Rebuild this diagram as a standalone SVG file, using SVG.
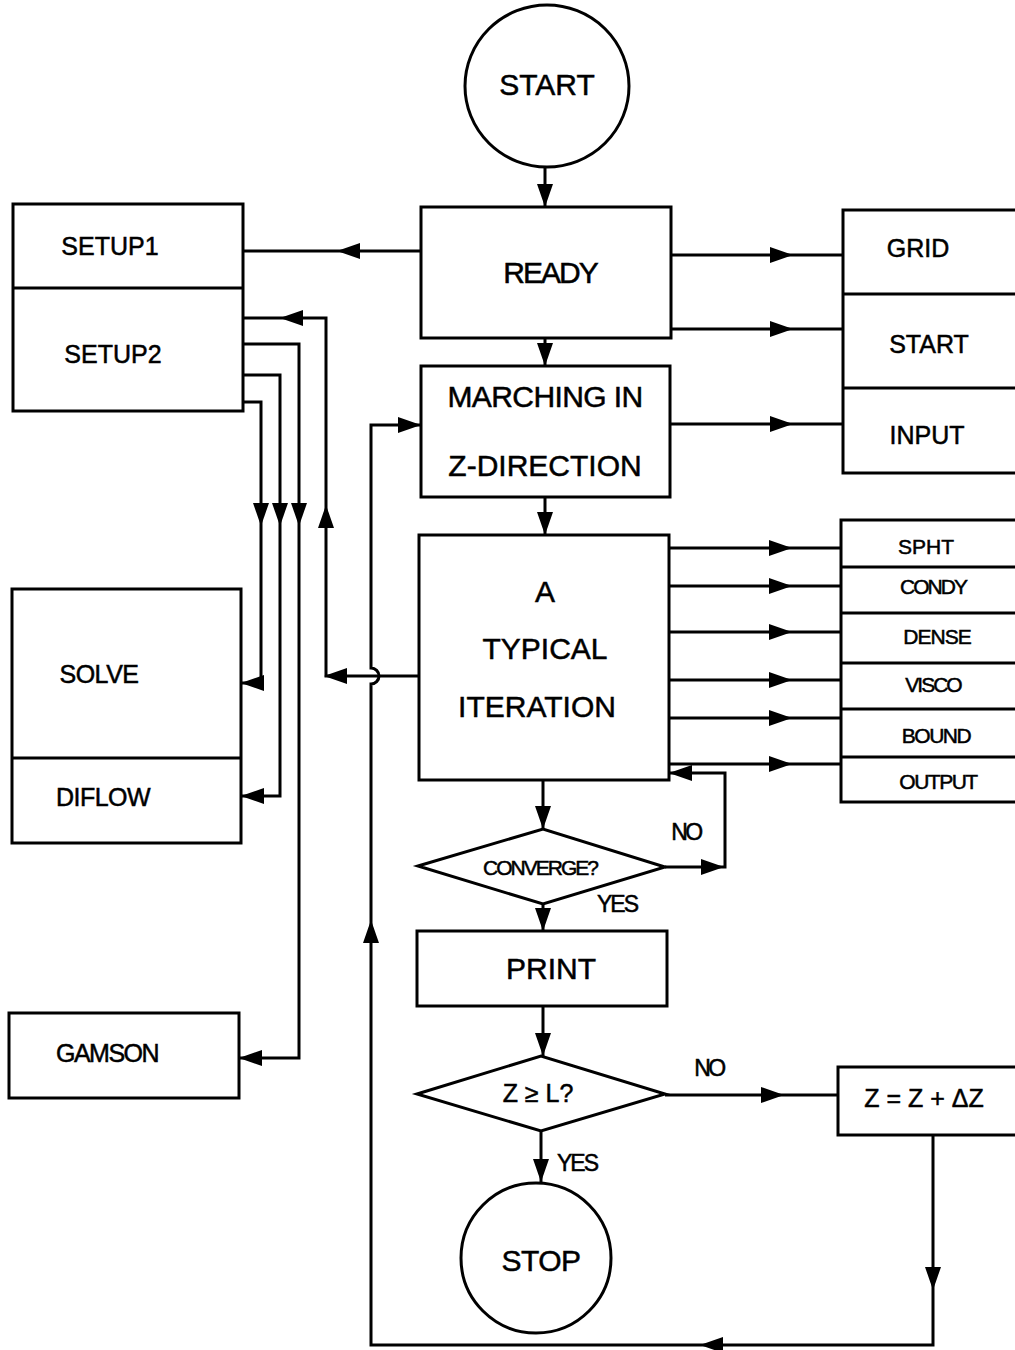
<svg xmlns="http://www.w3.org/2000/svg" xmlns:xlink="http://www.w3.org/1999/xlink" width="1015" height="1350" viewBox="0 0 1015 1350">
<style>
  .box { fill: #ffffff; stroke: #000000; stroke-width: 3; }
  .ln { fill: none; stroke: #000000; stroke-width: 3; }
  .t { font-family: "Liberation Sans", Arial, sans-serif; fill: #000000; stroke: #000000; stroke-width: 0.5; text-anchor: middle; }
  .big { font-size: 30px; }
  .mid { font-size: 25px; }
  .sm { font-size: 21px; }
  .lb { font-size: 23px; }
  .ah { fill: #000000; stroke: none; }
</style>
<defs>
  <path id="ah" d="M0,0 L-23,-8 L-23,8 Z"/>
</defs>
<rect width="1015" height="1350" fill="#ffffff"/>

<g id="connectors">
  <path class="ln" d="M545,167 V207"/>
  <path class="ln" d="M421,251 H243"/>
  <path class="ln" d="M671,255 H843"/>
  <path class="ln" d="M671,329 H843"/>
  <path class="ln" d="M545,338 V366"/>
  <path class="ln" d="M670,424 H843"/>
  <path class="ln" d="M545,497 V535"/>
  <path class="ln" d="M669,548 H841"/>
  <path class="ln" d="M669,586 H841"/>
  <path class="ln" d="M669,632 H841"/>
  <path class="ln" d="M669,680 H841"/>
  <path class="ln" d="M669,718 H841"/>
  <path class="ln" d="M669,764 H841"/>
  <path class="ln" d="M419,676 H326 V318 H243"/>
  <path class="ln" d="M243,344 H299 V1058 H239"/>
  <path class="ln" d="M243,375 H280 V796 H241"/>
  <path class="ln" d="M243,402 H261 V683 H241"/>
  <path class="ln" d="M543,780 V829"/>
  <path class="ln" d="M665,867 H725 V773 H669"/>
  <path class="ln" d="M543,904 V931"/>
  <path class="ln" d="M543,1006 V1056"/>
  <path class="ln" d="M665,1095 H838"/>
  <path class="ln" d="M541,1131 V1183"/>
  <path class="ln" d="M933,1135 V1345 H371 V684 A8,8 0 0 0 371,668 V425 H421"/>

  <g class="ah">
    <use xlink:href="#ah" transform="translate(545,207) rotate(90)"/>
    <use xlink:href="#ah" transform="translate(337,251) rotate(180)"/>
    <use xlink:href="#ah" transform="translate(793,255)"/>
    <use xlink:href="#ah" transform="translate(793,329)"/>
    <use xlink:href="#ah" transform="translate(545,366) rotate(90)"/>
    <use xlink:href="#ah" transform="translate(793,424)"/>
    <use xlink:href="#ah" transform="translate(545,535) rotate(90)"/>
    <use xlink:href="#ah" transform="translate(792,548)"/>
    <use xlink:href="#ah" transform="translate(792,586)"/>
    <use xlink:href="#ah" transform="translate(792,632)"/>
    <use xlink:href="#ah" transform="translate(792,680)"/>
    <use xlink:href="#ah" transform="translate(792,718)"/>
    <use xlink:href="#ah" transform="translate(792,764)"/>
    <use xlink:href="#ah" transform="translate(324,676) rotate(180)"/>
    <use xlink:href="#ah" transform="translate(326,505) rotate(-90)"/>
    <use xlink:href="#ah" transform="translate(280,318) rotate(180)"/>
    <use xlink:href="#ah" transform="translate(299,526) rotate(90)"/>
    <use xlink:href="#ah" transform="translate(280,526) rotate(90)"/>
    <use xlink:href="#ah" transform="translate(261,526) rotate(90)"/>
    <use xlink:href="#ah" transform="translate(241,683) rotate(180)"/>
    <use xlink:href="#ah" transform="translate(241,796) rotate(180)"/>
    <use xlink:href="#ah" transform="translate(239,1058) rotate(180)"/>
    <use xlink:href="#ah" transform="translate(543,829) rotate(90)"/>
    <use xlink:href="#ah" transform="translate(724,867)"/>
    <use xlink:href="#ah" transform="translate(669,773) rotate(180)"/>
    <use xlink:href="#ah" transform="translate(543,931) rotate(90)"/>
    <use xlink:href="#ah" transform="translate(543,1056) rotate(90)"/>
    <use xlink:href="#ah" transform="translate(784,1095)"/>
    <use xlink:href="#ah" transform="translate(541,1182) rotate(90)"/>
    <use xlink:href="#ah" transform="translate(933,1290) rotate(90)"/>
    <use xlink:href="#ah" transform="translate(700,1345) rotate(180)"/>
    <use xlink:href="#ah" transform="translate(371,920) rotate(-90)"/>
    <use xlink:href="#ah" transform="translate(421,425)"/>
  </g>
</g>

<g id="start">
  <ellipse class="box" cx="547" cy="86" rx="82" ry="81"/>
  <text class="t big" x="547" y="95">START</text>
</g>

<g id="ready">
  <rect class="box" x="421" y="207" width="250" height="131"/>
  <text class="t big" x="550" y="283" letter-spacing="-2">READY</text>
</g>

<g id="setup">
  <rect class="box" x="13" y="204" width="230" height="207"/>
  <line class="ln" x1="13" y1="288" x2="243" y2="288"/>
  <text class="t mid" x="110" y="255">SETUP1</text>
  <text class="t mid" x="113" y="363">SETUP2</text>
</g>

<g id="grid-start-input">
  <rect class="box" x="843" y="210" width="190" height="263"/>
  <line class="ln" x1="843" y1="294" x2="1033" y2="294"/>
  <line class="ln" x1="843" y1="388" x2="1033" y2="388"/>
  <text class="t mid" x="918" y="257">GRID</text>
  <text class="t mid" x="929" y="353">START</text>
  <text class="t mid" x="927" y="444">INPUT</text>
</g>

<g id="marching">
  <rect class="box" x="421" y="366" width="249" height="131"/>
  <text class="t big" x="545" y="407" letter-spacing="-0.6">MARCHING IN</text>
  <text class="t big" x="545" y="476">Z-DIRECTION</text>
</g>

<g id="iteration">
  <rect class="box" x="419" y="535" width="250" height="245"/>
  <text class="t big" x="545" y="602">A</text>
  <text class="t big" x="545" y="659">TYPICAL</text>
  <text class="t big" x="537" y="717">ITERATION</text>
</g>

<g id="properties">
  <rect class="box" x="841" y="520" width="190" height="282"/>
  <line class="ln" x1="841" y1="567" x2="1031" y2="567"/>
  <line class="ln" x1="841" y1="613" x2="1031" y2="613"/>
  <line class="ln" x1="841" y1="663" x2="1031" y2="663"/>
  <line class="ln" x1="841" y1="709" x2="1031" y2="709"/>
  <line class="ln" x1="841" y1="757" x2="1031" y2="757"/>
  <text class="t sm" x="926" y="554">SPHT</text>
  <text class="t sm" x="933" y="594" letter-spacing="-2">CONDY</text>
  <text class="t sm" x="937" y="644" letter-spacing="-1">DENSE</text>
  <text class="t sm" x="933" y="692" letter-spacing="-2">VISCO</text>
  <text class="t sm" x="936" y="743" letter-spacing="-1.5">BOUND</text>
  <text class="t sm" x="938" y="789" letter-spacing="-1.5">OUTPUT</text>
</g>

<g id="solve-diflow">
  <rect class="box" x="12" y="589" width="229" height="254"/>
  <line class="ln" x1="12" y1="758" x2="241" y2="758"/>
  <text class="t mid" x="99" y="683" letter-spacing="-0.5">SOLVE</text>
  <text class="t mid" x="103" y="806" letter-spacing="-0.5">DIFLOW</text>
</g>

<g id="gamson">
  <rect class="box" x="9" y="1013" width="230" height="85"/>
  <text class="t mid" x="107" y="1062" letter-spacing="-1.5">GAMSON</text>
</g>

<g id="converge">
  <polygon class="box" points="418,866 543,829 665,867 543,904"/>
  <text class="t sm" x="540" y="875" letter-spacing="-2">CONVERGE?</text>
  <text class="t lb" x="686" y="840" letter-spacing="-2.5">NO</text>
  <text class="t lb" x="617" y="912" letter-spacing="-2">YES</text>
</g>

<g id="print">
  <rect class="box" x="417" y="931" width="250" height="75"/>
  <text class="t big" x="551" y="979">PRINT</text>
</g>

<g id="zcheck">
  <polygon class="box" points="417,1094 541,1056 665,1094 541,1131"/>
  <text class="t mid" x="538" y="1102">Z ≥ L?</text>
  <text class="t lb" x="709" y="1076" letter-spacing="-2.5">NO</text>
  <text class="t lb" x="577" y="1171" letter-spacing="-2">YES</text>
</g>

<g id="increment">
  <rect class="box" x="838" y="1067" width="190" height="68"/>
  <text class="t mid" x="924" y="1107">Z = Z + ΔZ</text>
</g>

<g id="stop">
  <ellipse class="box" cx="536" cy="1258" rx="75" ry="75"/>
  <text class="t big" x="541" y="1271" letter-spacing="-0.5">STOP</text>
</g>
</svg>
